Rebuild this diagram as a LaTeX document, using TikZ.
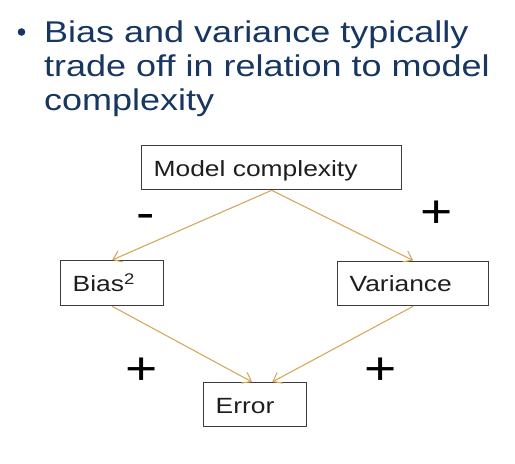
\documentclass[tikz,border=0pt]{standalone}
\usepackage{fontspec}
\setmainfont{Liberation Sans}[FakeStretch=1.2]
\usetikzlibrary{arrows.meta}
\definecolor{titleblue}{RGB}{24,55,96}
\definecolor{boxgray}{RGB}{60,60,60}
\definecolor{textgray}{RGB}{30,30,30}
\definecolor{linkgold}{RGB}{214,168,94}
\begin{document}
\begin{tikzpicture}[x=1pt,y=-1pt,
  box/.style={draw=boxgray, line width=1.3pt, rectangle, anchor=north west,
    inner xsep=12pt, inner ysep=0pt, align=left, text=textgray,
    font=\fontsize{22}{22}\selectfont, text height=18pt, text depth=1pt},
  link/.style={draw=linkgold, line width=1.1pt,
    -{Straight Barb[length=8pt,width=12pt,line width=1.1pt]}},
  sign/.style={inner sep=0pt, text=black, font=\fontsize{46}{46}\selectfont}]
\useasboundingbox (0,0) rectangle (515,464);

% heading with its bullet
\fill[titleblue] (21.5,32) circle (3.8pt);
\node[anchor=base west, inner sep=0pt, align=left, text=titleblue,
  font=\fontsize{30}{34}\selectfont] (head) at (44,110)
  {Bias and variance typically\\trade off in relation to model\\complexity};

% boxes
\node[box, text width=236pt, minimum height=44pt] (mc) at (141,145) {Model complexity};
\node[box, text width=79pt, minimum height=45pt] (bias) at (60,260) {Bias\textsuperscript{2}};
\node[box, text width=127pt, minimum height=44.5pt] (var) at (337,260.5) {Variance};
\node[box, text width=79pt, minimum height=44pt] (err) at (203,382) {Error};

% connectors
\draw[link] (mc.south) -- (bias.north);
\draw[link] (mc.south) -- (var.north);
\draw[link] (bias.south) -- ([xshift=-3pt]err.north);
\draw[link] (var.south) -- ([xshift=17pt]err.north);

% signs of the effects
\node[sign] (s1) at (145.3,221) {-};
\node[sign] (s2) at (436.7,214) {+};
\node[sign] (s3) at (141.7,371) {+};
\node[sign] (s4) at (380.8,371) {+};
\end{tikzpicture}
\end{document}
